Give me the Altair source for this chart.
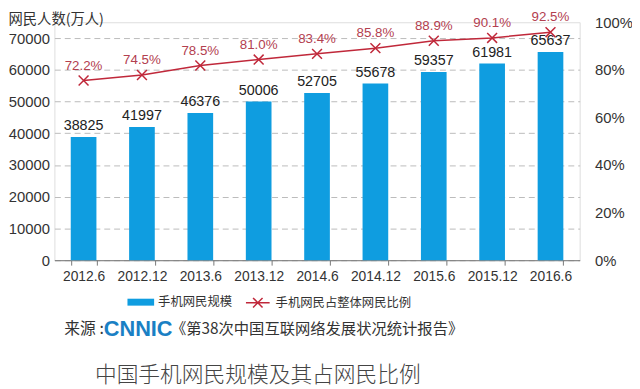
import altair as alt
import pandas as pd

periods = ["2012.6", "2012.12", "2013.6", "2013.12", "2014.6", "2014.12", "2015.6", "2015.12", "2016.6"]
users = [38825, 41997, 46376, 50006, 52705, 55678, 59357, 61981, 65637]
ratio = [0.722, 0.745, 0.785, 0.810, 0.834, 0.858, 0.889, 0.901, 0.925]
bar_name = "手机网民规模"
line_name = "手机网民占整体网民比例"

BLUE = "#0f9de0"
RED = "#c0283a"
LABEL_RED = "#b3404f"
FONT = "Liberation Sans, Noto Sans CJK SC"
CJK = "Noto Sans CJK SC"

df = pd.DataFrame({
    "period": periods,
    "users": users,
    "ratio": ratio,
    "s1": [bar_name] * len(periods),
    "s2": [line_name] * len(periods),
})
one = pd.DataFrame({"k": [0]})

x = alt.X(
    "period:N", sort=periods, title=None,
    scale=alt.Scale(paddingInner=0.56, paddingOuter=0.28),
    axis=alt.Axis(labelAngle=0, labelFontSize=14, labelColor="#333", labelPadding=5,
                  domainColor="#777", tickColor="#777", tickSize=5, tickBand="extent",
                  tickExtra=True, grid=False, labelFont=FONT),
)

yl = alt.Y(
    "users:Q", title="网民人数(万人)",
    scale=alt.Scale(domain=[0, 75000], nice=False),
    axis=alt.Axis(values=[0, 10000, 20000, 30000, 40000, 50000, 60000, 70000], format="d",
                  labelFontSize=15, labelColor="#333", labelPadding=5, ticks=False,
                  domain=False, grid=True, gridDash=[6, 4], gridColor="#bbbbbb",
                  titleAngle=0, titleX=-47, titleY=-3, titleAlign="left",
                  titleBaseline="middle", titleFontSize=14.5, titleFontWeight="normal",
                  titleColor="#333", titleFont=CJK, labelFont=FONT),
)

yr = alt.Y(
    "ratio:Q", title=None,
    scale=alt.Scale(domain=[0, 1], nice=False),
    axis=alt.Axis(orient="right", values=[0, 0.2, 0.4, 0.6, 0.8, 1.0], format=".0%",
                  labelFontSize=15, labelColor="#333", labelPadding=15, ticks=False,
                  domain=False, grid=False, labelFont=FONT),
)

base = alt.Chart(df)

bars = base.mark_bar(size=26).encode(
    x=x, y=yl,
    color=alt.Color("s1:N", scale=alt.Scale(domain=[bar_name], range=[BLUE]),
                    legend=alt.Legend(orient="none", legendX=73, legendY=269, title=None,
                                      symbolType="M-1,-0.26H1V0.26H-1Z", symbolSize=729,
                                      labelFontSize=12.5, labelFont=CJK, labelColor="#333",
                                      labelOffset=3, padding=0)),
)
bar_text = base.mark_text(baseline="bottom", dy=-4, fontSize=14.5, color="#222", font=FONT).encode(
    x=x, y=yl, text=alt.Text("users:Q", format="d"),
)

source1 = alt.Chart(one).mark_text(text="来源 :", font=CJK, fontSize=16, color="#333",
                                   align="left", baseline="middle").encode(
    x=alt.value(10), y=alt.value(311))
source2 = alt.Chart(one).mark_text(text="CNNIC", font="Liberation Sans", fontSize=22,
                                   fontWeight="bold", color="#1a80c4",
                                   align="left", baseline="middle").encode(
    x=alt.value(50), y=alt.value(311))
source3 = alt.Chart(one).mark_text(text="《第38次中国互联网络发展状况统计报告》", font=CJK,
                                   fontSize=15.5, color="#333",
                                   align="left", baseline="middle").encode(
    x=alt.value(118), y=alt.value(311))
title = alt.Chart(one).mark_text(text="中国手机网民规模及其占网民比例", font=CJK, fontSize=22,
                                 fontWeight=300, color="#444", align="center",
                                 baseline="middle").encode(
    x=alt.value(206), y=alt.value(357))

left = alt.layer(bars, bar_text, source1, source2, source3, title)

line = base.mark_line(strokeWidth=1.5, yOffset=-8).encode(
    x=x, y=yr,
    stroke=alt.Stroke("s2:N", scale=alt.Scale(domain=[line_name], range=[RED]),
                      legend=alt.Legend(orient="none", legendX=193, legendY=271, title=None,
                                        symbolType="M-1,0H1M-0.4,-0.4L0.4,0.4M-0.4,0.4L0.4,-0.4",
                                        symbolSize=576, symbolStrokeWidth=1.5,
                                        symbolFillColor="transparent",
                                        labelFontSize=12.5, labelFont=CJK, labelColor="#333",
                                        labelOffset=5, padding=0)),
)
points = base.mark_point(shape="M-1,-1L1,1M-1,1L1,-1", size=100, filled=False,
                         strokeWidth=1.5, color=RED, opacity=1, yOffset=-8).encode(x=x, y=yr)
line_text = base.mark_text(baseline="middle", dy=-23, fontSize=13.5, color=LABEL_RED, font=FONT).encode(
    x=x, y=yr, text=alt.Text("ratio:Q", format=".1%"),
)
right = alt.layer(line, points, line_text)

chart = alt.layer(left, right).resolve_scale(y="independent").properties(
    width=532, height=241,
    autosize=alt.AutoSizeParams(type="none"),
    padding={"left": 47, "top": 12, "right": 53, "bottom": 128},
).configure_view(stroke=None).configure(font=FONT)

chart.save("out.html", embed_options={"renderer": "svg", "actions": False})
